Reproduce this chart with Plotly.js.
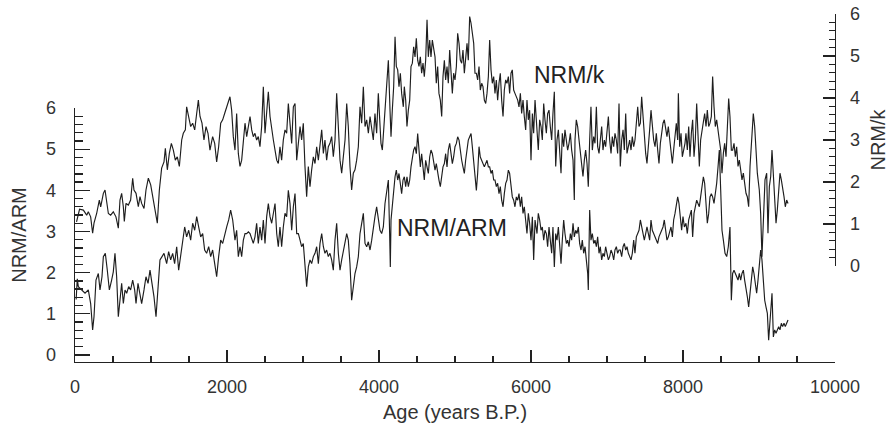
<!DOCTYPE html>
<html>
<head>
<meta charset="utf-8">
<script src="https://cdn.plot.ly/plotly-3.0.1.min.js"></script>
<style>html,body{margin:0;padding:0;background:#fff;}#chart{width:893px;height:429px;}</style>
</head>
<body>
<div id="chart"></div>
<script>
// NRM/k series (right axis)
var ageK = [20,60,110,154,175,206,232,250,285,320,338,373,395,417,439,469,504,539,570,592,614,636,649,671,702,732,759,776,803,833,855,877,908,934,965,996,1022,1053,1083,1110,1140,1171,1189,1215,1241,1268,1294,1320,1346,1373,1404,1425,1452,1469,1496,1522,1548,1575,1601,1623,1645,1671,1697,1724,1750,1776,1811,1838,1864,1890,1917,1943,1969,1996,
2018,2039,2061,2083,2105,2127,2149,2171,2193,2215,2237,2259,2281,2303,2325,2346,2368,2390,2412,2434,2456,2478,2500,2522,2544,2566,2588,2610,2632,2654,2675,2697,2719,2741,2763,2785,2807,2829,2851,2873,2895,2917,2939,2961,2982,3004,3026,3048,3070,3092,3114,3136,3158,3180,3202,3224,3246,3268,3289,3311,3333,3355,3377,3399,3421,3443,3465,3487,3509,3531,3553,3575,3596,3618,3640,3662,3684,3706,3728,3750,3772,3794,3816,3838,3860,3882,3904,3925,3947,3969,3991,
4026,4044,4061,4079,4101,4123,4145,4158,4175,4193,4211,4228,4246,4263,4281,4298,4320,4333,4351,4368,4386,4404,4421,4439,4456,4474,4491,4509,4526,4544,4561,4579,4596,4614,4632,4649,4667,4684,4702,4719,4737,4754,4772,4789,4807,4825,4842,4860,4877,4895,4912,4930,4947,4965,4982,5000,5018,5035,5053,5070,5088,5105,5123,5140,5158,5175,5193,5211,5228,5246,5263,5281,5298,5316,5333,5351,5368,5386,5404,5421,5439,5456,5474,5491,5509,5526,5544,5561,5579,5596,5614,5632,5649,5667,5684,5702,5719,5737,5754,5772,5789,5807,5825,5842,5860,5877,5895,5912,5930,5947,5965,5982,6000,6018,6035,6053,
6079,6096,6114,6132,6149,6167,6184,6202,6219,6237,6254,6272,6289,6307,6325,6342,6360,6377,6395,6412,6430,6447,6465,6482,6500,6518,6535,6553,6570,6579,6596,6614,6632,6649,6667,6684,6702,6719,6737,6754,6772,6789,6807,6825,6842,6860,6877,6895,6912,6930,6947,6965,6982,7000,7018,7035,7053,7070,7088,7105,7123,7140,7158,7175,7193,7211,7228,7246,7263,7281,7298,7316,7333,7351,7368,7386,7404,7421,7439,7456,7474,7491,7509,7526,7544,7561,7579,7596,7614,7632,7649,7667,7684,7702,7719,7737,7754,7772,7789,7807,7825,7842,7860,7877,7895,7912,7930,7939,7956,7974,7991,8009,8026,
8039,8057,8075,8092,8110,8127,8145,8162,8180,8197,8215,8232,8250,8268,8285,8303,8320,8338,8355,8373,8390,8408,8425,8443,8461,8478,8496,8513,8531,8548,8566,8583,8601,8618,8636,8653,8671,8689,8706,8724,8741,8759,8776,8794,8811,8829,8846,8864,8882,8899,8917,8925,8943,8961,8978,9004,9022,9039,9057,9079,9101,9118,9136,9154,9171,9189,9206,9224,9241,9259,9276,9294,9311,9329,9346,9364,9382];
var nrmK = [1.05,1.35,1.33,1.21,1.29,1.17,0.78,1.02,1.25,1.57,1.41,1.73,1.81,1.57,1.25,1.21,1.29,1.17,0.90,1.57,1.73,1.41,1.06,1.49,1.45,1.57,2.09,1.81,1.73,1.41,1.65,1.49,1.37,1.81,2.09,1.93,1.65,1.33,1.02,1.81,2.33,2.48,2.80,2.29,2.68,2.92,2.76,2.52,2.60,2.37,3.00,3.16,3.24,3.79,3.56,3.32,3.40,3.24,3.63,3.95,3.56,3.40,3.00,3.32,3.16,2.76,3.08,2.92,2.48,2.84,3.40,3.48,3.63,3.79,
3.87,4.03,3.71,3.08,2.76,3.63,2.68,2.37,2.52,2.92,3.40,3.08,3.32,3.56,3.24,3.08,3.16,3.00,3.08,2.84,3.32,4.27,3.16,3.71,4.15,3.56,3.24,3.00,2.76,2.52,2.44,2.84,2.52,3.00,3.24,3.16,3.87,3.32,2.92,3.79,3.87,2.52,3.00,3.32,3.00,3.40,2.37,1.65,2.37,1.89,2.29,2.60,2.44,2.84,2.52,2.92,3.24,2.68,3.00,2.52,2.84,2.92,3.08,2.60,3.00,4.11,3.32,2.52,2.21,2.68,3.00,3.87,3.32,2.37,1.81,2.21,2.29,2.52,2.84,3.79,3.40,4.27,3.32,3.48,3.16,3.56,3.32,3.00,3.63,3.16,4.11,
2.92,2.76,3.24,3.71,4.19,4.90,3.71,3.08,3.71,4.27,5.46,4.75,4.67,4.27,4.59,4.11,3.79,4.27,3.95,3.32,3.71,3.95,4.75,4.83,5.22,4.98,5.42,4.90,4.75,4.98,4.59,4.83,4.51,4.90,5.86,4.98,5.38,4.98,5.38,5.14,4.98,4.35,4.75,4.11,3.95,3.56,4.51,4.90,4.43,4.75,4.35,5.14,4.67,4.11,4.59,4.43,4.75,5.54,5.30,4.90,4.83,5.14,4.59,4.90,5.30,4.90,5.94,5.78,5.54,5.30,4.59,4.59,4.43,4.75,4.19,4.35,4.27,3.95,3.87,4.11,4.51,5.38,4.67,4.35,4.51,4.11,4.43,3.95,4.35,4.59,3.95,3.56,4.19,4.43,4.35,4.51,4.11,4.59,4.67,4.19,4.11,4.03,3.95,3.79,4.11,3.63,3.95,3.56,3.24,3.95,3.48,3.71,2.52,3.63,3.16,3.95,
3.16,2.76,3.48,3.32,3.00,3.87,3.48,3.16,3.63,3.71,3.32,3.00,3.63,4.15,2.37,3.00,3.24,2.76,2.21,3.16,2.84,3.24,3.00,2.76,2.92,3.16,2.76,2.52,1.57,3.00,3.48,3.32,3.00,2.76,2.37,2.13,2.52,2.76,2.44,1.89,3.00,3.79,2.76,3.08,2.92,3.79,2.84,2.68,3.00,3.32,2.76,3.00,2.84,3.32,3.56,3.00,2.68,3.08,2.84,3.16,3.00,2.68,3.87,2.37,3.00,3.24,2.76,3.63,2.68,2.84,3.00,2.76,3.08,2.84,3.00,3.40,3.79,3.32,3.40,4.03,3.56,3.00,2.68,2.44,3.00,3.24,3.71,3.32,3.00,2.84,3.16,2.76,2.44,2.92,3.16,3.40,3.48,3.24,3.08,3.32,3.00,2.76,2.44,2.76,3.08,3.40,3.00,4.11,2.84,3.16,2.60,2.76,2.92,
3.16,2.76,3.32,2.60,3.16,3.48,2.60,3.00,3.87,3.00,2.37,3.00,3.24,3.48,3.63,3.32,3.71,3.32,3.40,3.56,4.51,3.79,3.32,3.48,3.16,3.00,2.76,2.21,2.68,2.92,2.60,3.32,3.99,3.56,2.76,2.76,2.92,2.60,2.84,2.37,2.52,2.29,2.05,2.21,1.89,1.73,1.65,1.41,2.37,3.00,3.40,3.63,3.32,2.76,2.21,1.81,1.25,0.22,1.25,2.05,2.21,0.78,1.89,2.13,2.76,2.05,1.65,1.02,1.33,1.73,2.21,2.05,1.89,1.65,1.41,1.57,1.49];

// NRM/ARM series (left axis)
var ageA = [15,30,44,88,132,175,206,232,250,276,307,329,355,373,399,425,452,482,504,526,548,570,592,614,636,658,680,706,732,759,785,803,829,855,877,908,934,961,987,1013,1039,1066,1092,1118,1145,1171,1206,1232,1259,1285,1311,1338,1364,1390,1417,1443,1469,1496,1522,1548,1575,1601,1627,1654,1680,1706,1732,1759,1785,1811,1838,1864,1890,1917,1943,1969,1996,2022,2048,2075,
2105,2127,2149,2171,2193,2215,2237,2259,2281,2303,2325,2346,2368,2390,2412,2434,2456,2478,2500,2522,2544,2566,2588,2610,2632,2654,2675,2697,2719,2741,2763,2785,2807,2829,2851,2873,2895,2917,2939,2961,2982,3004,3026,3048,3070,3092,3114,3136,3158,3180,3202,3224,3246,3268,3289,3311,3333,3355,3377,3399,3421,3443,3465,3487,3509,3531,3553,3575,3596,3618,3640,3662,3684,3706,3728,3750,3772,3794,3816,3838,3860,3882,3904,3925,3947,
3969,3991,4013,4035,4057,4079,4101,4123,4140,4149,4158,4175,4193,4211,4228,4246,4263,4281,4298,4316,4333,4351,4368,4386,4404,4421,4439,4456,4474,4491,4509,4526,4544,4561,4579,4596,4614,4632,4649,4667,4684,4702,4719,4737,4754,4772,4789,4807,4825,4842,4860,4877,4895,4912,4930,4947,4965,4982,5000,5018,5035,5053,5070,5088,5105,5123,5140,5158,5175,5193,5211,5228,5246,5263,5281,5298,5316,5333,5351,5368,5386,5404,5421,5439,5456,5474,5491,5509,5526,5544,5561,5579,5596,5614,5632,5649,5667,5684,5702,5719,5737,5754,5772,5789,5807,5825,5842,5860,5877,5895,5912,5930,5947,5965,5982,6000,6018,6035,6053,
6079,6096,6114,6132,6149,6167,6184,6202,6219,6237,6254,6272,6289,6307,6325,6342,6360,6377,6395,6412,6430,6447,6465,6482,6500,6518,6535,6553,6570,6588,6605,6623,6640,6658,6675,6693,6711,6728,6746,6754,6763,6772,6789,6807,6825,6842,6860,6877,6895,6912,6930,6947,6965,6982,7000,7018,7035,7053,7070,7088,7105,7123,7140,7158,7175,7193,7211,7228,7246,7263,7281,7298,7316,7333,7351,7368,7386,7404,7421,7439,7456,7474,7491,7509,7526,7544,7561,7579,7596,7614,7632,7649,7667,7684,7702,7719,7737,7754,7772,7789,7807,7825,7842,7860,7877,7895,7912,7930,7947,7965,7982,8000,8018,
8039,8057,8075,8092,8110,8127,8145,8162,8180,8197,8215,8232,8250,8268,8285,8303,8320,8338,8355,8373,8390,8408,8425,8443,8461,8478,8496,8513,8531,8553,8575,8596,8618,8636,8653,8671,8689,8706,8724,8741,8759,8776,8794,8811,8829,8846,8864,8882,8899,8917,8934,8952,8969,8987,9004,9022,9039,9057,9075,9092,9110,9127,9145,9162,9171,9189,9206,9224,9241,9259,9276,9294,9311,9329,9346,9364,9382];
var nrmA = [1.35,1.85,1.66,1.58,1.50,1.58,1.25,0.61,0.93,1.82,1.98,1.58,1.90,2.39,2.47,2.06,1.58,1.82,2.02,2.47,1.90,0.93,1.42,1.74,1.25,1.58,1.50,1.66,1.58,1.82,1.58,1.25,1.74,1.42,1.25,1.58,1.90,1.74,2.06,1.74,1.42,0.93,1.58,2.31,2.39,2.47,2.22,2.51,2.31,2.47,2.22,2.63,2.06,2.39,2.71,3.11,2.87,3.03,2.79,3.20,3.03,3.36,3.11,2.87,2.95,2.55,2.47,2.63,2.39,2.55,2.22,1.90,2.39,2.79,2.71,2.95,3.11,3.28,3.52,3.28,
2.79,3.03,2.39,2.63,2.39,2.79,2.95,2.95,2.99,2.95,2.79,2.71,2.87,3.20,2.71,3.11,2.79,3.28,2.71,3.36,3.68,3.36,3.20,3.44,3.68,2.95,2.63,3.11,2.63,3.11,3.44,3.36,4.00,3.68,3.03,3.60,3.92,2.95,2.95,2.79,2.63,2.71,2.22,1.66,2.14,2.31,2.22,2.39,2.47,2.63,2.22,2.71,2.95,2.63,2.47,2.55,2.39,2.47,2.31,2.06,2.79,3.20,2.47,2.06,2.31,2.55,2.71,2.95,2.79,2.22,1.33,1.66,1.98,2.14,2.39,2.95,3.20,3.44,2.71,2.63,2.75,2.55,2.79,3.11,3.36,
3.60,3.36,3.03,2.95,3.11,3.68,4.00,4.25,2.95,2.14,3.28,3.60,4.09,4.33,4.49,4.25,4.41,4.09,3.92,4.25,4.33,4.09,4.33,4.09,4.25,4.57,4.81,4.98,5.06,4.89,5.38,5.06,4.57,4.89,4.57,4.25,4.73,4.57,4.41,4.81,4.98,4.89,4.73,4.49,4.65,4.41,4.25,4.09,4.41,4.57,4.65,4.89,4.57,4.98,5.14,4.89,4.65,4.81,5.06,5.14,5.30,5.22,4.89,4.73,4.57,4.41,4.73,4.98,5.22,5.30,5.38,5.06,4.73,4.25,4.00,4.41,5.06,4.81,4.73,4.65,4.57,4.65,4.73,4.57,4.57,4.41,4.49,4.25,4.25,4.09,4.17,3.92,4.09,3.76,3.60,3.92,4.17,4.25,4.49,4.41,4.09,3.84,3.76,3.60,3.84,3.76,3.92,3.60,3.84,3.44,3.60,3.28,2.95,3.44,3.20,2.79,3.36,2.31,3.28,
2.95,3.44,3.28,3.03,3.11,2.79,3.03,2.95,2.63,3.11,2.79,2.47,3.11,2.14,2.95,2.79,3.11,2.63,2.22,2.79,3.28,2.95,2.71,2.79,2.63,2.95,2.79,3.20,2.87,3.03,2.95,3.11,2.71,2.55,2.79,2.47,2.63,2.31,1.98,1.58,2.63,3.52,2.79,2.95,2.71,2.79,2.63,2.87,2.47,2.63,2.31,2.47,2.39,2.63,2.47,2.31,2.39,2.55,2.47,2.31,2.55,2.63,2.47,2.55,2.55,2.39,2.63,2.71,2.55,2.63,2.47,2.39,2.31,2.47,2.79,2.47,2.87,2.95,3.03,3.28,3.11,2.95,2.79,2.95,3.11,2.95,2.79,3.28,3.03,2.95,2.87,2.79,2.71,2.87,2.95,3.03,3.11,3.28,2.95,2.79,2.87,3.03,3.11,2.87,3.28,3.44,3.60,3.84,3.68,3.28,3.03,3.36,3.11,
3.20,2.95,3.28,3.44,3.52,2.87,3.44,3.60,3.76,3.68,3.60,3.84,4.09,4.33,4.17,3.76,3.20,3.44,3.84,3.92,3.84,3.68,3.92,4.17,4.57,4.98,4.00,3.03,2.79,2.47,2.39,2.63,3.11,1.33,1.98,2.06,1.98,1.90,1.82,1.98,1.82,1.98,2.06,1.82,1.66,1.42,1.17,1.50,1.98,2.14,1.98,1.66,1.50,1.82,2.31,2.55,2.31,1.82,1.33,1.17,1.01,0.36,0.93,1.17,1.50,0.44,0.61,0.53,0.61,0.69,0.61,0.77,0.69,0.77,0.69,0.77,0.85];

var xTicks = [0, 2000, 4000, 6000, 8000, 10000];
var yTicks = [0, 1, 2, 3, 4, 5, 6];

var ink = '#222';
var font = 'Liberation Sans, Arial, Helvetica, sans-serif';

var traces = [
  {x: ageA, y: nrmA, xaxis: 'x', yaxis: 'y', type: 'scatter', mode: 'lines',
   line: {color: '#1e1e1e', width: 1.15}, hoverinfo: 'skip'},
  {x: ageK, y: nrmK, xaxis: 'x', yaxis: 'y2', type: 'scatter', mode: 'lines',
   line: {color: '#1e1e1e', width: 1.15}, hoverinfo: 'skip'}
];

var layout = {
  width: 893, height: 429,
  margin: {l: 75, r: 58, t: 14, b: 67},
  paper_bgcolor: '#fff', plot_bgcolor: 'rgba(0,0,0,0)',
  showlegend: false,
  font: {family: font, color: '#333', size: 18},
  xaxis: {
    domain: [0, 1], range: [0, 10000], anchor: 'y',
    showline: true, linecolor: ink, linewidth: 1.3,
    ticks: 'inside', ticklen: 12, tickwidth: 1.3, tickcolor: ink,
    tickmode: 'array', tickvals: xTicks, ticktext: xTicks.map(String),
    minor: {tickmode: 'linear', tick0: 0, dtick: 500, ticks: 'inside', ticklen: 6, tickwidth: 1.3, tickcolor: ink},
    showgrid: false, zeroline: false,
    tickfont: {size: 18, color: '#333'}, ticklabelstandoff: 8,
    title: {text: 'Age (years B.P.)', font: {size: 20, color: '#333'}, standoff: 9}
  },
  yaxis: {
    domain: [0, 0.7299], range: [-0.17, 6], anchor: 'x',
    showline: true, linecolor: ink, linewidth: 1.3,
    ticks: 'inside', ticklen: 15, tickwidth: 1.3, tickcolor: ink,
    tickmode: 'array', tickvals: yTicks, ticktext: yTicks.map(String),
    minor: {tickmode: 'linear', tick0: 0, dtick: 0.2, ticks: 'inside', ticklen: 8, tickwidth: 1.3, tickcolor: ink},
    showgrid: false, zeroline: false,
    tickfont: {size: 18, color: '#333'}, ticklabelstandoff: 14,
    title: {text: 'NRM/ARM', font: {size: 20, color: '#333'}, standoff: 14}
  },
  yaxis2: {
    domain: [0.2759, 1], range: [0, 6], anchor: 'x', side: 'right',
    showline: true, linecolor: ink, linewidth: 1.3,
    ticks: 'inside', ticklen: 12, tickwidth: 1.3, tickcolor: ink,
    tickmode: 'array', tickvals: yTicks, ticktext: yTicks.map(String),
    minor: {tickmode: 'linear', tick0: 0, dtick: 0.2, ticks: 'inside', ticklen: 6, tickwidth: 1.3, tickcolor: ink},
    showgrid: false, zeroline: false,
    tickfont: {size: 18, color: '#333'}, ticklabelstandoff: 10,
    title: {text: 'NRM/k', font: {size: 20, color: '#333'}, standoff: 12}
  },
  annotations: [
    {text: 'NRM/k', x: 6513, y: 4.55, xref: 'x', yref: 'y2', showarrow: false,
     font: {size: 23, color: '#222', family: font}},
    {text: 'NRM/ARM', x: 4961, y: 3.08, xref: 'x', yref: 'y', showarrow: false,
     font: {size: 23, color: '#222', family: font}}
  ]
};

Plotly.newPlot('chart', traces, layout, {displayModeBar: false, staticPlot: true});
</script>
</body>
</html>
